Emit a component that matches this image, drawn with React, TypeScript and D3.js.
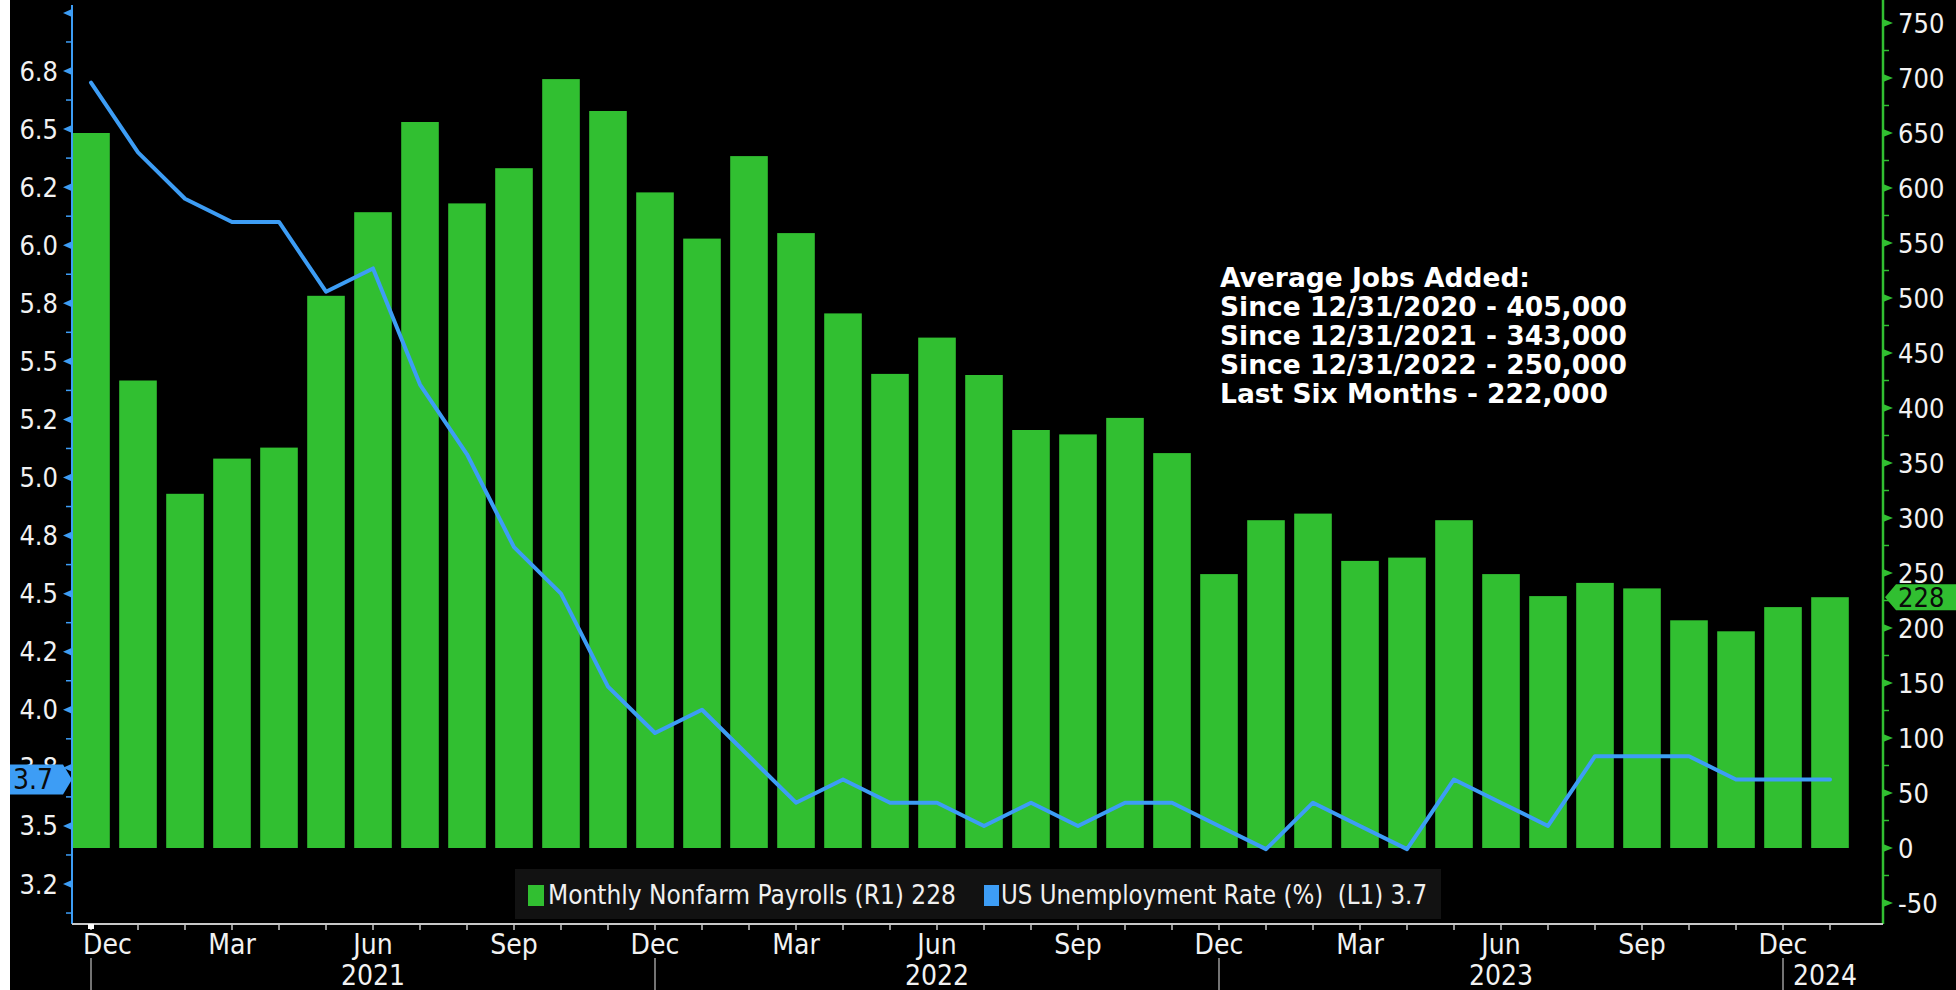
import React from "react";
import * as d3 from "d3";

const months = [
  "2020-12","2021-01","2021-02","2021-03","2021-04","2021-05","2021-06","2021-07","2021-08","2021-09","2021-10","2021-11",
  "2021-12","2022-01","2022-02","2022-03","2022-04","2022-05","2022-06","2022-07","2022-08","2022-09","2022-10","2022-11",
  "2022-12","2023-01","2023-02","2023-03","2023-04","2023-05","2023-06","2023-07","2023-08","2023-09","2023-10","2023-11",
  "2023-12","2024-01",
];
const payrolls = [
  650, 425, 322, 354, 364, 502, 578, 660, 586, 618, 699, 670,
  596, 554, 629, 559, 486, 431, 464, 430, 380, 376, 391, 359,
  249, 298, 304, 261, 264, 298, 249, 229, 241, 236, 207, 197,
  219, 228,
];
const unemployment = [
  6.7, 6.4, 6.2, 6.1, 6.1, 5.8, 5.9, 5.4, 5.1, 4.7, 4.5, 4.1,
  3.9, 4.0, 3.8, 3.6, 3.7, 3.6, 3.6, 3.5, 3.6, 3.5, 3.6, 3.6,
  3.5, 3.4, 3.6, 3.5, 3.4, 3.7, 3.6, 3.5, 3.8, 3.8, 3.8, 3.7,
  3.7, 3.7,
];
const leftTickValues = [3.25, 3.5, 3.75, 4.0, 4.25, 4.5, 4.75, 5.0, 5.25, 5.5, 5.75, 6.0, 6.25, 6.5, 6.75];
const leftTickLabels = ["3.2", "3.5", "3.8", "4.0", "4.2", "4.5", "4.8", "5.0", "5.2", "5.5", "5.8", "6.0", "6.2", "6.5", "6.8"];
const rightTickValues = [-50, 0, 50, 100, 150, 200, 250, 300, 350, 400, 450, 500, 550, 600, 650, 700, 750];
const monthLabelNames: Record<string, string> = { "12": "Dec", "03": "Mar", "06": "Jun", "09": "Sep" };
const yearLabels = ["2021", "2022", "2023", "2024"];
const annotationLines = [
  "Average Jobs Added:",
  "Since 12/31/2020 - 405,000",
  "Since 12/31/2021 - 343,000",
  "Since 12/31/2022 - 250,000",
  "Last Six Months - 222,000",
];
const legendPayrolls = "Monthly Nonfarm Payrolls (R1) 228";
const legendUnemp = "US Unemployment Rate (%)  (L1) 3.7";

const W = 1956;
const H = 990;
const BLUE = "#3d9df5";
const GREEN = "#31bf31";
const AXIS_X0 = 72;
const AXIS_X1 = 1883;
const AXIS_Y = 924;
const FONT = "'DejaVu Sans Condensed', 'DejaVu Sans', sans-serif";

export default function App() {
  const x = d3.scaleBand<string>().domain(months).range([67.5, 1853.5]).paddingInner(0.2).paddingOuter(0.1);
  const cx = (m: string) => (x(m) as number) + x.bandwidth() / 2;
  const yL = d3.scaleLinear().domain([3.25, 6.75]).range([884, 71]);
  const yR = d3.scaleLinear().domain([0, 750]).range([848, 23]);

  const line = d3
    .line<number>()
    .x((_, i) => cx(months[i]))
    .y((d) => yL(d));

  const leftMinor = d3.range(3.125, 7.01, 0.25);
  const leftMajorAll = [...leftTickValues, 7.0];
  const rightMinor = d3.range(-25, 776, 50);

  const decIdx = months.map((m, i) => (m.endsWith("-12") ? i : -1)).filter((i) => i >= 0);
  const yearCenters = [
    (cx(months[decIdx[0]]) + cx(months[decIdx[1]])) / 2,
    (cx(months[decIdx[1]]) + cx(months[decIdx[2]])) / 2,
    (cx(months[decIdx[2]]) + cx(months[decIdx[3]])) / 2,
    cx(months[decIdx[3]]) + 42,
  ];

  const lastUn = unemployment[unemployment.length - 1];
  const lastPay = payrolls[payrolls.length - 1];
  const by = yL(lastUn);
  const ry = yR(lastPay);

  return (
    <svg
      width={W}
      height={H}
      style={{ position: "absolute", left: 0, top: 0, display: "block" }}
      fontFamily={FONT}
    >
      <rect x={0} y={0} width={W} height={H} fill="#fff" />
      <rect x={10} y={0} width={W - 10} height={H} fill="#000" />

      {/* bars */}
      {payrolls.map((v, i) => (
        <rect
          key={"b" + i}
          x={x(months[i])}
          y={yR(v)}
          width={x.bandwidth()}
          height={yR(0) - yR(v)}
          fill={GREEN}
        />
      ))}

      {/* unemployment line */}
      <path d={line(unemployment) || ""} fill="none" stroke={BLUE} strokeWidth={4} strokeLinejoin="round" strokeLinecap="round" />

      {/* annotation */}
      {annotationLines.map((t, i) => (
        <text
          key={"a" + i}
          x={1220}
          y={287 + i * 29}
          fill="#fff"
          fontFamily="'DejaVu Sans', Verdana, sans-serif"
          fontWeight="bold"
          fontSize={26.5}
        >
          {t}
        </text>
      ))}

      {/* legend */}
      <rect x={515} y={869} width={926} height={50} fill="#121212" />
      <rect x={528} y={885} width={16} height={21} fill={GREEN} />
      <text x={548} y={904} fill="#f0f0f0" fontSize={27} textLength={408} lengthAdjust="spacingAndGlyphs">
        {legendPayrolls}
      </text>
      <rect x={984} y={885} width={15} height={21} fill={BLUE} />
      <text x={1001} y={904} fill="#f0f0f0" fontSize={27} textLength={426} lengthAdjust="spacingAndGlyphs" style={{ whiteSpace: "pre" }}>
        {legendUnemp}
      </text>

      {/* left axis */}
      <line x1={AXIS_X0} x2={AXIS_X0} y1={5} y2={AXIS_Y} stroke={BLUE} strokeWidth={2} />
      {leftMinor.map((v, i) => (
        <line key={"lm" + i} x1={AXIS_X0 - 6} x2={AXIS_X0} y1={yL(v)} y2={yL(v)} stroke={BLUE} strokeWidth={1.5} />
      ))}
      {leftMajorAll.map((v, i) => (
        <path
          key={"lt" + i}
          d={`M${AXIS_X0},${yL(v) - 4} L${AXIS_X0 - 9},${yL(v)} L${AXIS_X0},${yL(v) + 4} Z`}
          fill={BLUE}
        />
      ))}
      {leftTickValues.map((v, i) => (
        <text key={"ll" + i} x={58} y={yL(v) + 9.5} textAnchor="end" fill="#f2f2f2" fontSize={27}>
          {leftTickLabels[i]}
        </text>
      ))}

      {/* right axis */}
      <line x1={AXIS_X1} x2={AXIS_X1} y1={0} y2={AXIS_Y} stroke={GREEN} strokeWidth={2.5} />
      {rightMinor.map((v, i) => (
        <line key={"rm" + i} x1={AXIS_X1} x2={AXIS_X1 + 6} y1={yR(v)} y2={yR(v)} stroke={GREEN} strokeWidth={1.5} />
      ))}
      {rightTickValues.map((v, i) => (
        <path
          key={"rt" + i}
          d={`M${AXIS_X1},${yR(v) - 4} L${AXIS_X1 + 10},${yR(v)} L${AXIS_X1},${yR(v) + 4} Z`}
          fill={GREEN}
        />
      ))}
      {rightTickValues.map((v, i) => (
        <text key={"rl" + i} x={1898} y={yR(v) + 9.5} fill="#f2f2f2" fontSize={27}>
          {v < 0 ? "-" + Math.abs(v) : String(v)}
        </text>
      ))}

      {/* x axis */}
      <line x1={AXIS_X0} x2={AXIS_X1} y1={AXIS_Y} y2={AXIS_Y} stroke="#c8c8c8" strokeWidth={2} />
      {months.map((m, i) => (
        <line key={"xt" + i} x1={cx(m)} x2={cx(m)} y1={AXIS_Y} y2={AXIS_Y + 6} stroke="#c8c8c8" strokeWidth={1.5} />
      ))}
      <rect x={cx(months[0]) - 3} y={AXIS_Y} width={6} height={5} fill="#fff" />
      {months.map((m, i) => {
        const mm = m.slice(5);
        const name = monthLabelNames[mm];
        if (!name) return null;
        const first = i === 0;
        return (
          <text
            key={"xl" + i}
            x={first ? cx(m) - 8 : cx(m)}
            y={954}
            textAnchor={first ? "start" : "middle"}
            fill="#f2f2f2"
            fontSize={28}
          >
            {name}
          </text>
        );
      })}
      {decIdx.map((i) => (
        <line key={"ys" + i} x1={cx(months[i])} x2={cx(months[i])} y1={958} y2={H} stroke="#9a9a9a" strokeWidth={1.5} />
      ))}
      {yearLabels.map((t, i) => (
        <text key={"yl" + i} x={yearCenters[i]} y={985} textAnchor="middle" fill="#f2f2f2" fontSize={28}>
          {t}
        </text>
      ))}

      {/* badges */}
      <path
        d={`M10,${by - 15} L63,${by - 15} L72,${by} L63,${by + 15} L10,${by + 15} Z`}
        fill={BLUE}
      />
      <text x={13} y={by + 10} fill="#0a0a0a" fontSize={28}>
        {String(lastUn)}
      </text>
      <path
        d={`M${AXIS_X1 + 2},${ry} L${AXIS_X1 + 13},${ry - 13} L${W},${ry - 13} L${W},${ry + 13} L${AXIS_X1 + 13},${ry + 13} Z`}
        fill={GREEN}
      />
      <text x={1898} y={ry + 9.5} fill="#0a0a0a" fontSize={27}>
        {String(lastPay)}
      </text>
    </svg>
  );
}
